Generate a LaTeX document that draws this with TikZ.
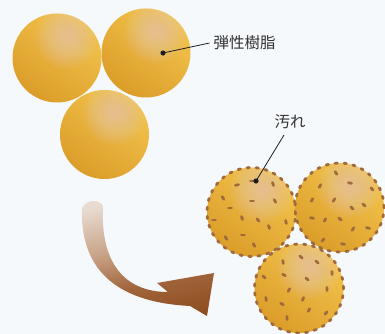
\documentclass[tikz,border=0pt]{standalone}
\usepackage{fontspec}
\newfontfamily\jpfont{Noto Sans CJK JP}

\definecolor{bg}{HTML}{F5F9FC}
\definecolor{ballhi}{HTML}{F3C44C}
\definecolor{ballmid}{HTML}{EDB93E}
\definecolor{balldark}{HTML}{DB9D29}
\definecolor{glowcol}{HTML}{E6CEC4}
\definecolor{dirt}{HTML}{A06A3C}
\definecolor{ink}{HTML}{1E1E1E}
\definecolor{labeltext}{HTML}{333333}
\definecolor{arrowA}{HTML}{7A4014}
\definecolor{arrowB}{HTML}{8C4D1F}
\definecolor{arrowC}{HTML}{A06238}
\definecolor{arrowD}{HTML}{C8A286}
\definecolor{arrowE}{HTML}{E6D8CC}
\definecolor{arrowF}{HTML}{F3F0EC}

% curved arrow: dark brown at the head, fading out towards its tail
\pgfdeclareverticalshading{arrowshade}{100bp}{%
  color(0bp)=(arrowA); color(22bp)=(arrowB); color(38bp)=(arrowC);
  color(55bp)=(arrowD); color(74bp)=(arrowE); color(90bp)=(arrowF);
  color(100bp)=(bg)}

\tikzset{
  ball/.style={circle, minimum size=89pt, inner sep=0pt, outer sep=0pt,
    top color=ballhi, middle color=ballmid, bottom color=balldark,
    shading angle=-35,
    % soft highlight built from stacked translucent discs
    path picture={
      \coordinate (hl) at ([shift={(10pt,21pt)}]path picture bounding box.center);
      \foreach \r in {32,30,...,2}
        \fill[glowcol, fill opacity=0.06] (hl) circle (\r pt);}},
  dirty/.style={ball, draw=dirt, line width=2.8pt, dash pattern=on 2.4pt off 6.6pt,
    line cap=round},
  spot/.style={dirt, line width=2.7pt, line cap=round},
  leader/.style={ink, line width=0.8pt},
  pin/.style={ink},
  tag/.style={font=\jpfont\fontsize{15.5}{18}\selectfont, text=labeltext, inner sep=4pt},
}

\begin{document}
\begin{tikzpicture}[x=1pt, y=-1pt]
  \fill[bg] (0,0) rectangle (385,334);
  \useasboundingbox (0,0) rectangle (385,334);

  % clean resin spheres
  \node[ball] (c1) at (57,58) {};
  \node[ball] (c2) at (146,53) {};
  \node[ball] (c3) at (104.5,134.5) {};

  % label for the resin
  \coordinate (p1) at (163,53);
  \node[tag, anchor=west] (l1) at (209.5,43) {弾性樹脂};
  \draw[leader] (p1) -- (l1.west);
  \fill[pin] (p1) circle (2.6pt);

  % curved arrow
  \shade[shading=arrowshade, shading angle=12]
    (82,208) .. controls (80,266) and (112,302) .. (190,306)
    -- (207,316) -- (214,273) -- (157,283) -- (168,292)
    .. controls (124,292) and (100,262) .. (103,206)
    .. controls (100,199) and (86,199) .. (82,208) -- cycle;

  % soiled spheres
  \node[dirty] (d1) at (251.5,212) {};
  \node[dirty] (d2) at (339.5,207.5) {};
  \node[dirty] (d3) at (299,288.5) {};

  % dirt specks on the left sphere
  \foreach \x/\y/\a in {252/181/0, 237/185/-15, 273/184/70, 223/198/60,
      252/201/0, 275/201/60, 230/208/0, 242/218/70, 214/220/0, 258/220/50,
      269/227/70, 286/222/75, 243/235/0, 226/238/60, 254/245/60}
    \draw[spot] (\x,\y) ++(\a:1.6) -- ++(\a+180:3.2);
  % dirt specks on the right sphere
  \foreach \x/\y/\a in {336/173/55, 320/186/-60, 350/183/10, 372/189/50,
      312/200/-60, 334/200/-60, 352/208/40, 364/205/40, 312/218/10,
      325/220/-60, 340/219/40, 353/229/-60, 368/228/15, 323/240/-50,
      343/244/10}
    \draw[spot] (\x,\y) ++(\a:1.6) -- ++(\a+180:3.2);
  % dirt specks on the lower sphere
  \foreach \x/\y/\a in {301/257/40, 283/262/80, 317/262/40, 284/275/30,
      264/277/40, 307/279/40, 332/273/85, 289/290/-60, 327/289/85,
      266/299/80, 282/304/30, 303/299/-65, 309/310/-60, 326/313/-50,
      287/318/85}
    \draw[spot] (\x,\y) ++(\a:1.6) -- ++(\a+180:3.2);

  % label for the dirt
  \coordinate (p2) at (256,181);
  \coordinate (e2) at (284,135);
  \node[tag] (l2) at (290,122) {汚れ};
  \draw[leader] (p2) -- (e2);
  \fill[pin] (p2) circle (2.6pt);
\end{tikzpicture}
\end{document}
